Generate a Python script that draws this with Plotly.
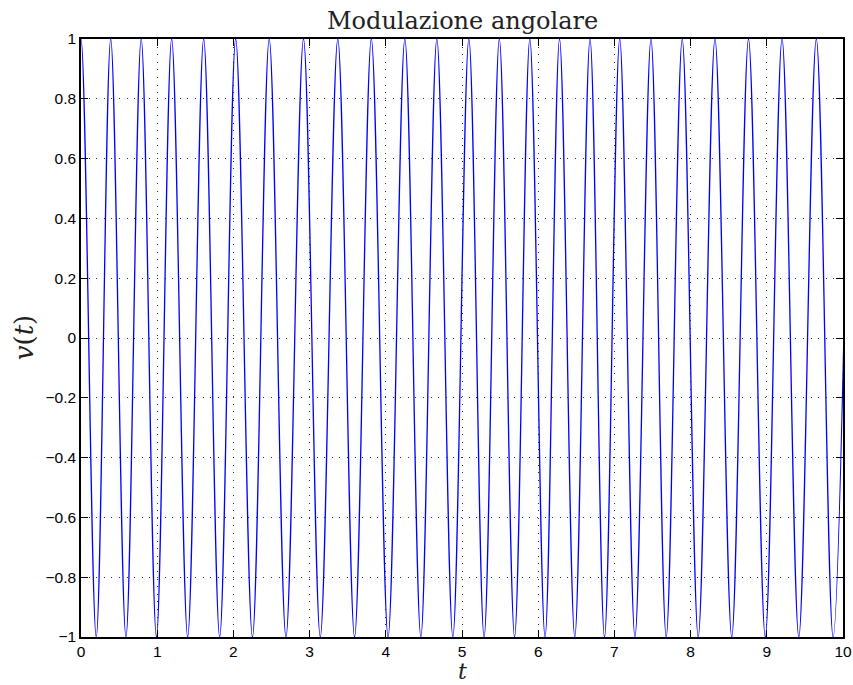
import plotly.graph_objects as go

# Times (s) of the successive maxima / minima of v(t)
# (first and last entries are the neighbouring extrema just outside the 0..10 window)
t_extrema = [-0.20, 0.00, 0.20, 0.39, 0.59, 0.79, 0.99, 1.19, 1.40, 1.61, 1.82,
             2.03, 2.25, 2.47, 2.69, 2.92, 3.14, 3.37, 3.59, 3.81, 4.03,
             4.25, 4.46, 4.67, 4.88, 5.09, 5.29, 5.49, 5.69, 5.89, 6.09,
             6.28, 6.48, 6.68, 6.87, 7.07, 7.27, 7.48, 7.68, 7.89, 8.10,
             8.32, 8.54, 8.76, 8.98, 9.20, 9.42, 9.65, 9.87, 10.09]
# values at those extrema: alternating minimum / maximum
v_extrema = [-1, 1, -1, 1, -1, 1, -1, 1, -1, 1, -1,
             1, -1, 1, -1, 1, -1, 1, -1, 1, -1,
             1, -1, 1, -1, 1, -1, 1, -1, 1, -1,
             1, -1, 1, -1, 1, -1, 1, -1, 1, -1,
             1, -1, 1, -1, 1, -1, 1, -1, 1]

x_ticks = [0, 1, 2, 3, 4, 5, 6, 7, 8, 9, 10]
x_tick_labels = ["0", "1", "2", "3", "4", "5", "6", "7", "8", "9", "10"]
y_ticks = [-1, -0.8, -0.6, -0.4, -0.2, 0, 0.2, 0.4, 0.6, 0.8, 1]
y_tick_labels = ["\u22121", "\u22120.8", "\u22120.6", "\u22120.4", "\u22120.2", "0",
                 "0.2", "0.4", "0.6", "0.8", "1"]

title_text = "Modulazione angolare"
x_label = "<i>t</i>"
y_label = "<i>v</i>(<i>t</i>)"

fig = go.Figure()
fig.add_trace(go.Scatter(
    x=t_extrema, y=v_extrema, mode="lines",
    line=dict(color="#0000ff", width=1.3, shape="spline", smoothing=1.0),
    hoverinfo="skip", showlegend=False,
))

axis_common = dict(
    showline=True, linecolor="black", linewidth=1.5, mirror="ticks",
    ticks="inside", ticklen=7, tickcolor="black", tickwidth=1,
    showgrid=True, gridcolor="rgba(0,0,0,0.8)", gridwidth=1,
    griddash="1px,6.6px", zeroline=False, automargin=False,
    tickfont=dict(family="Liberation Sans, Arial, sans-serif", size=15.5, color="black"),
)

fig.update_xaxes(range=[0, 10], tickvals=x_ticks, ticktext=x_tick_labels, **axis_common)
fig.update_yaxes(range=[-1, 1], tickvals=y_ticks, ticktext=y_tick_labels, **axis_common)

serif = "DejaVu Serif, Liberation Serif, serif"
fig.update_layout(
    width=853, height=685,
    margin=dict(l=81, r=10, t=39, b=48, autoexpand=False),
    paper_bgcolor="white", plot_bgcolor="white",
    annotations=[
        dict(text=title_text, xref="paper", yref="paper", x=0.5, y=1.03,
             xanchor="center", yanchor="middle", showarrow=False,
             font=dict(family=serif, size=24, color="#222")),
        dict(text=x_label, xref="paper", yref="paper", x=0.5, y=-0.0801,
             xanchor="center", yanchor="bottom", showarrow=False, borderpad=0,
             font=dict(family=serif, size=22, color="#222")),
        dict(text=y_label, xref="paper", yref="paper", x=-0.0745, y=0.5,
             xanchor="center", yanchor="middle", showarrow=False, textangle=-90,
             font=dict(family=serif, size=26, color="#222")),
    ],
)

fig.write_html("out.html")
